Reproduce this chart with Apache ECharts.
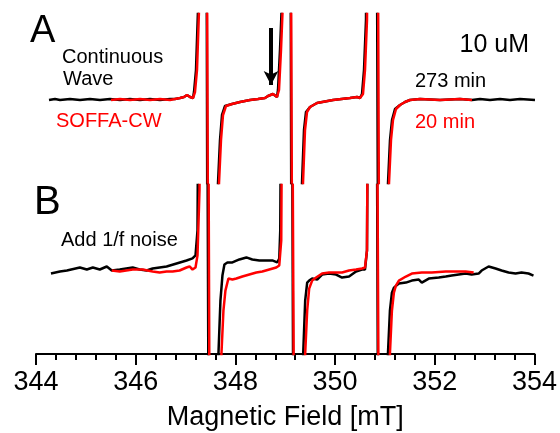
<!DOCTYPE html>
<html>
<head>
<meta charset="utf-8">
<script src="https://cdn.jsdelivr.net/npm/echarts@6/dist/echarts.min.js"></script>
<style>
html,body{margin:0;padding:0;background:#fff;}
#chart{width:560px;height:433px;}
</style>
</head>
<body>
<div id="chart"></div>
<script>
// Field range and tick labels (mT)
var fieldMin = 344, fieldMax = 354, fieldStep = 2;
var axisTitle = 'Magnetic Field [mT]';

// Panel A: continuous wave (273 min) vs SOFFA-CW (20 min); [field mT, signal a.u.]
var cwA = [[344.26,0],[344.38,1],[344.48,0],[344.68,1],[344.88,0],[345.08,1],[345.28,0],[345.48,1],[345.68,0],[345.88,1],[346.08,0],[346.28,1],[346.48,0],[346.68,1],[346.78,1],[346.88,2],[346.96,3],[347.02,5],[347.08,3],[347.14,2],[347.16,8],[347.20,30],[347.24,90],[347.28,400],[347.40,400],[347.44,-400],[347.56,-400],[347.64,-83],[347.68,-40],[347.72,-15],[347.78,-6],[347.92,-4],[348.08,-2],[348.28,0],[348.44,1],[348.58,2],[348.64,4],[348.74,6],[348.82,3],[348.84,10],[348.88,50],[348.92,100],[348.96,400],[349.08,400],[349.12,-400],[349.24,-400],[349.32,-83],[349.36,-30],[349.40,-12],[349.48,-7],[349.62,-3],[349.94,0],[350.28,2],[350.42,3],[350.48,2],[350.52,6],[350.56,30],[350.60,80],[350.64,400],[350.80,400],[350.86,-400],[350.96,-400],[351.04,-83],[351.08,-40],[351.12,-20],[351.18,-9],[351.28,-5],[351.38,-2],[351.48,0],[351.68,1],[352.08,0],[352.48,1],[352.72,0],[352.88,1],[353.08,0],[353.28,1],[353.48,0],[353.68,1],[353.98,0]];
var soffaA = [[345.50,0],[345.68,1],[345.88,0],[346.08,1],[346.28,0],[346.48,1],[346.68,0],[346.78,1],[346.88,2],[346.96,3],[347.02,5],[347.08,3],[347.14,2],[347.18,8],[347.22,30],[347.26,90],[347.30,400],[347.40,400],[347.46,-400],[347.58,-400],[347.66,-83],[347.70,-40],[347.74,-15],[347.80,-6],[347.92,-4],[348.08,-2],[348.28,0],[348.44,1],[348.58,2],[348.64,4],[348.74,6],[348.82,3],[348.86,10],[348.90,50],[348.94,100],[348.98,400],[349.08,400],[349.14,-400],[349.26,-400],[349.34,-83],[349.38,-30],[349.42,-12],[349.48,-7],[349.62,-3],[349.94,0],[350.28,2],[350.42,3],[350.48,2],[350.54,6],[350.58,30],[350.62,80],[350.66,400],[350.82,400],[350.88,-400],[350.98,-400],[351.06,-83],[351.10,-40],[351.14,-20],[351.20,-9],[351.28,-5],[351.38,-2],[351.48,0],[351.68,1],[352.08,0],[352.48,1],[352.72,0]];

// Panel B: with added 1/f noise
var cwB = [[344.30,-3],[344.48,-1],[344.62,0],[344.88,3],[345.02,1],[345.14,3],[345.28,1],[345.42,4],[345.52,0],[345.68,1],[345.94,3],[346.08,1],[346.22,0],[346.34,2],[346.48,3],[346.62,4],[346.82,7],[347.02,10],[347.14,12],[347.20,15],[347.24,40],[347.28,400],[347.42,400],[347.48,-400],[347.58,-400],[347.66,-83],[347.70,-30],[347.74,-5],[347.78,6],[347.84,8],[347.94,8],[348.08,11],[348.22,13],[348.34,11],[348.48,10],[348.62,10],[348.74,10],[348.84,8],[348.88,12],[348.90,40],[348.94,400],[349.12,400],[349.18,-400],[349.28,-400],[349.36,-83],[349.40,-30],[349.44,-12],[349.48,-10],[349.54,-8],[349.64,-9],[349.74,-4],[349.88,-3],[350.02,-4],[350.14,-7],[350.28,-6],[350.42,-1],[350.54,1],[350.60,1],[350.64,20],[350.68,400],[350.82,400],[350.88,-400],[350.98,-400],[351.06,-83],[351.10,-40],[351.14,-22],[351.18,-17],[351.28,-13],[351.42,-12],[351.54,-10],[351.68,-9],[351.74,-12],[351.88,-8],[352.08,-7],[352.22,-6],[352.34,-5],[352.48,-4],[352.62,-3],[352.74,-4],[352.88,-3],[352.94,0],[353.08,4],[353.22,2],[353.34,0],[353.48,-2],[353.62,-3],[353.74,-2],[353.88,-3],[353.98,-5]];
var soffaB = [[345.52,0],[345.68,-1],[345.94,1],[346.14,1],[346.34,-1],[346.48,-2],[346.62,-1],[346.74,-1],[346.88,0],[347.02,3],[347.08,4],[347.14,1],[347.20,3],[347.24,15],[347.28,80],[347.32,400],[347.44,400],[347.50,-400],[347.62,-400],[347.72,-83],[347.76,-40],[347.80,-20],[347.86,-8],[347.94,-9],[348.02,-8],[348.14,-6],[348.28,-4],[348.42,-2],[348.54,-1],[348.68,1],[348.82,3],[348.88,5],[348.92,30],[348.96,400],[349.12,400],[349.20,-400],[349.30,-400],[349.40,-83],[349.44,-40],[349.48,-18],[349.54,-10],[349.62,-7],[349.74,-3],[349.88,-2],[350.02,-2],[350.14,-2],[350.28,0],[350.42,1],[350.54,2],[350.60,3],[350.64,20],[350.68,400],[350.82,400],[350.90,-400],[351.00,-400],[351.10,-83],[351.14,-40],[351.18,-22],[351.22,-15],[351.28,-10],[351.42,-6],[351.54,-3],[351.74,-2],[351.94,-2],[352.22,-1],[352.42,-1],[352.62,-1],[352.78,-2]];

// Arrow marking the feature in panel A: [field, from signal, to signal]
var arrowMark = [348.70, 72, 15];

var FONT = '"Liberation Sans", Arial, sans-serif';
var chart = echarts.init(document.getElementById('chart'), null, {renderer: 'canvas'});

function txt(s, x, y, size, color) {
  return {type: 'text', x: x, y: y, silent: true,
    style: {text: s, fill: color, font: size + 'px ' + FONT, textAlign: 'left', textVerticalAlign: 'middle'}};
}

var line = function (name, data, xi, color, extra) {
  var s = {name: name, type: 'line', xAxisIndex: xi, yAxisIndex: xi, data: data,
    showSymbol: false, symbol: 'none', clip: true, animation: false, silent: true,
    lineStyle: {color: color, width: 2.5}};
  if (extra) for (var k in extra) s[k] = extra[k];
  return s;
};

chart.setOption({
  animation: false,
  backgroundColor: '#fff',
  textStyle: {fontFamily: FONT},
  grid: [
    {left: 36, top: 14, width: 500, height: 169},
    {left: 36, top: 185, width: 500, height: 169}
  ],
  xAxis: [
    {gridIndex: 0, type: 'value', min: fieldMin, max: fieldMax, show: false},
    {gridIndex: 1, type: 'value', min: fieldMin, max: fieldMax, interval: fieldStep,
      axisLine: {onZero: false, lineStyle: {color: '#000', width: 2}},
      axisTick: {length: 11, lineStyle: {color: '#000', width: 2}},
      minorTick: {show: true, splitNumber: 5, length: 6, lineStyle: {color: '#000', width: 2}},
      splitLine: {show: false}, minorSplitLine: {show: false},
      axisLabel: {fontSize: 27, color: '#000', margin: 15, fontFamily: FONT},
      name: axisTitle, nameLocation: 'middle', nameGap: 50,
      nameTextStyle: {fontSize: 27, color: '#000', fontFamily: FONT}}
  ],
  yAxis: [
    {gridIndex: 0, type: 'value', min: -83, max: 86, show: false},
    {gridIndex: 1, type: 'value', min: -83, max: 85, show: false}
  ],
  series: [
    line('Continuous Wave A', cwA, 0, '#000', {
      markLine: {silent: true, animation: false, symbol: ['none', 'arrow'], symbolSize: [11, 14],
        label: {show: false}, emphasis: {disabled: true},
        lineStyle: {color: '#000', width: 4, type: 'solid'},
        data: [[{coord: [arrowMark[0], arrowMark[1]]}, {coord: [arrowMark[0], arrowMark[2]]}]]}
    }),
    line('SOFFA-CW A', soffaA, 0, '#ff0000'),
    line('Continuous Wave B', cwB, 1, '#000'),
    line('SOFFA-CW B', soffaB, 1, '#ff0000')
  ],
  graphic: [
    txt('A', 30, 31.7, 38, '#000'),
    txt('B', 34, 203, 40, '#000'),
    txt('Continuous', 62, 57, 20, '#000'),
    txt('Wave', 63, 79, 20, '#000'),
    txt('SOFFA-CW', 56, 121, 20, '#ff0000'),
    txt('10 uM', 459.5, 45.3, 25, '#000'),
    txt('273 min', 415, 81, 20, '#000'),
    txt('20 min', 415, 122, 20, '#ff0000'),
    txt('Add 1/f noise', 61, 240, 20, '#000')
  ]
});
</script>
</body>
</html>
